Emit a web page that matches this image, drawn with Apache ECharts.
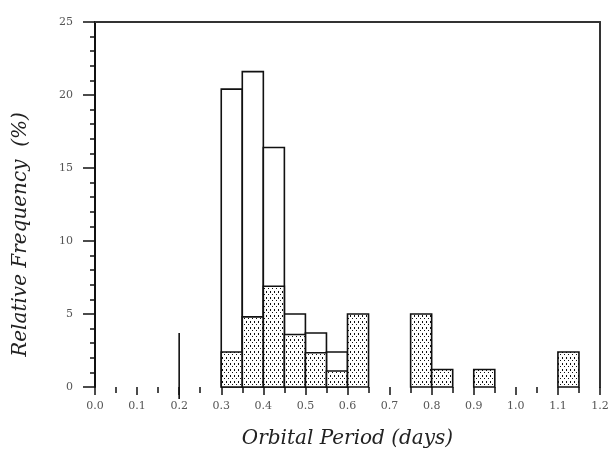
<!DOCTYPE html>
<html>
<head>
<meta charset="utf-8">
<script src="https://cdn.jsdelivr.net/npm/echarts@6/dist/echarts.min.js"></script>
<style>
  html, body { margin: 0; padding: 0; background: #fff; }
  #main { width: 616px; height: 459px; }
</style>
</head>
<body>
<div id="main"></div>
<script>
var binWidth = 0.05; // bin width (days)

// open (white) bars: bin start, relative frequency
var openBins = [0.30, 0.35, 0.40, 0.45, 0.50, 0.55];
var openFreq = [20.4, 21.6, 16.4, 5.0, 3.7, 2.4];

// dotted bars
var dotBins = [0.30, 0.35, 0.40, 0.45, 0.50, 0.55, 0.60, 0.75, 0.80, 0.90, 1.10];
var dotFreq = [2.4, 4.8, 6.9, 3.6, 2.35, 1.1, 5.0, 5.0, 1.2, 1.2, 2.4];

// lone vertical stroke at 0.2
var lineBins = [0.20];
var lineFreq = [3.7];

var xTicks = ['0.0', '0.1', '0.2', '0.3', '0.4', '0.5', '0.6', '0.7', '0.8', '0.9', '1.0', '1.1', '1.2'];

// stipple pattern
var pat = document.createElement('canvas');
pat.width = 4; pat.height = 6;
var g = pat.getContext('2d');
g.fillStyle = '#fff';
g.fillRect(0, 0, 4, 6);
g.fillStyle = '#111';
g.fillRect(0, 0, 1, 1);
g.fillRect(2, 3, 1, 2);

function pairs(a, b) {
  return a.map(function (v, i) { return [v, b[i]]; });
}

function barItem(fill) {
  return function (params, api) {
    var x0 = api.value(0), h = api.value(1);
    var p0 = api.coord([x0, 0]);
    var p1 = api.coord([x0 + binWidth, h]);
    return {
      type: 'rect',
      shape: { x: p0[0], y: p1[1], width: p1[0] - p0[0], height: p0[1] - p1[1] },
      style: { fill: fill, stroke: '#111', lineWidth: 1.6 }
    };
  };
}

var chart = echarts.init(document.getElementById('main'));
var serif = 'DejaVu Serif';

chart.setOption({
  animation: false,
  grid: { left: 95, right: 16, top: 22, bottom: 72 },
  xAxis: [{
    type: 'value', min: 0, max: 1.2, interval: 0.1,
    name: 'Orbital Period (days)', nameLocation: 'middle', nameGap: 42,
    nameTextStyle: { fontFamily: serif, fontStyle: 'italic', fontSize: 20, color: '#222' },
    axisLine: { show: false },
    axisTick: { show: true, length: 8, lineStyle: { color: '#111', width: 1.5 } },
    minorTick: { show: true, splitNumber: 2, length: 6, lineStyle: { color: '#111', width: 1.5 } },
    axisLabel: {
      fontFamily: serif, fontSize: 11, color: '#555', margin: 14,
      formatter: function (v) { return xTicks[Math.round(v * 10)]; }
    },
    splitLine: { show: false }
  }, {
    type: 'value', min: 0, max: 1.2, position: 'top',
    axisLine: { show: true, onZero: false, lineStyle: { color: '#333', width: 2 } },
    axisTick: { show: false }, axisLabel: { show: false }, splitLine: { show: false }
  }],
  yAxis: [{
    type: 'value', min: 0, max: 25, interval: 5,
    name: 'Relative Frequency  (%)', nameLocation: 'middle', nameGap: 64,
    nameTextStyle: {
      fontFamily: serif, fontStyle: 'italic', fontSize: 20, color: '#222',
      padding: [0, 60, 0, 0]
    },
    axisLine: { show: true, lineStyle: { color: '#111', width: 2 } },
    axisTick: { show: true, length: 12, lineStyle: { color: '#111', width: 1.5 } },
    minorTick: { show: true, splitNumber: 5, length: 5, lineStyle: { color: '#111', width: 1.5 } },
    axisLabel: { fontFamily: serif, fontSize: 11, color: '#555', margin: 22 },
    splitLine: { show: false }
  }, {
    type: 'value', min: 0, max: 25, position: 'right',
    axisLine: { show: true, onZero: false, lineStyle: { color: '#333', width: 2 } },
    axisTick: { show: false }, axisLabel: { show: false }, splitLine: { show: false }
  }],
  series: [{
    type: 'custom',
    renderItem: barItem('#fff'),
    data: pairs(openBins, openFreq),
    clip: false
  }, {
    type: 'custom',
    renderItem: barItem({ image: pat, repeat: 'repeat' }),
    data: pairs(dotBins, dotFreq),
    clip: false
  }, {
    type: 'custom',
    renderItem: function (params, api) {
      var p0 = api.coord([api.value(0), 0]);
      var p1 = api.coord([api.value(0), api.value(1)]);
      return {
        type: 'line',
        shape: { x1: p0[0], y1: p0[1] + 12, x2: p1[0], y2: p1[1] },
        style: { stroke: '#111', lineWidth: 1.6 }
      };
    },
    data: pairs(lineBins, lineFreq),
    clip: false
  }]
});
</script>
</body>
</html>
